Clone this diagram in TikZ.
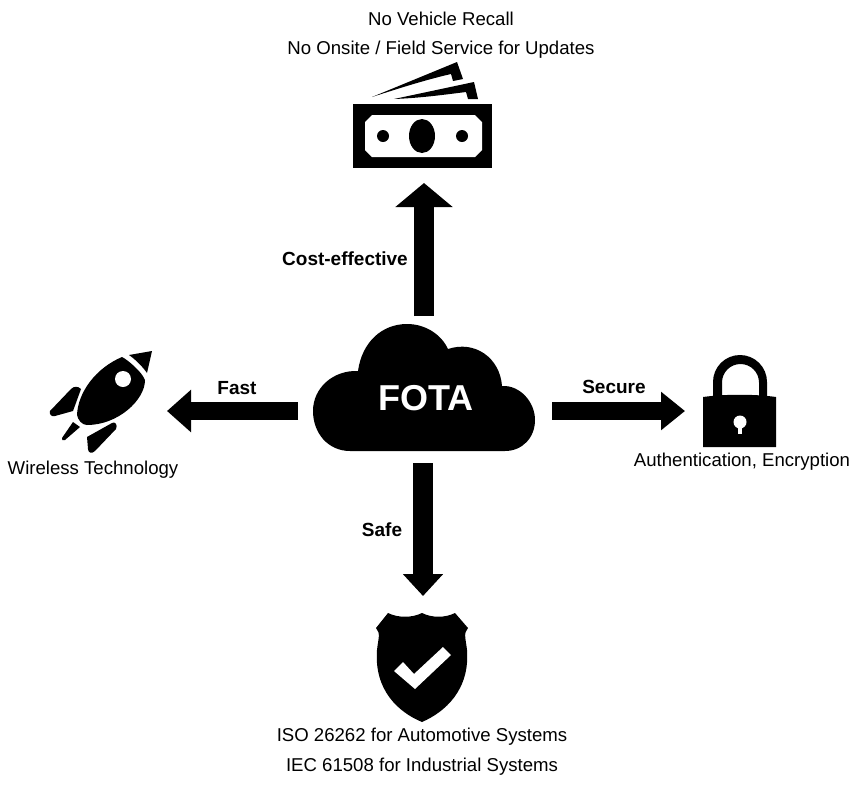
\documentclass[tikz,border=0pt]{standalone}
\usepackage{fontspec}
\setmainfont{Liberation Sans}
\usetikzlibrary{arrows.meta}
\tikzset{
  lbl/.style={font=\fontsize{18.6}{22}\selectfont,inner sep=0pt,text=black},
  blbl/.style={font=\fontsize{19}{22}\selectfont\bfseries,inner sep=0pt},
  icon/.style={fill=black,draw=none},
  hole/.style={fill=white,draw=none},
  blockv/.style={line width=20pt,draw=black,-{Triangle[length=24pt,width=56pt]}},
  blockh/.style={line width=18pt,draw=black,-{Triangle[length=24pt,width=41pt]}},
}
\begin{document}
\begin{tikzpicture}[x=1pt,y=-1pt]
\useasboundingbox (0,0) rectangle (865,788);
% cloud
\path[icon] (350,451) .. controls (328,451) and (313,433) .. (313,411)
  .. controls (313,388) and (333,370) .. (358,371)
  .. controls (362,342) and (382,324) .. (407,324)
  .. controls (425,324) and (441,334) .. (448,349)
  .. controls (475,340) and (500,358) .. (502,386)
  .. controls (520,385) and (535,402) .. (535,420)
  .. controls (535,438) and (522,451) .. (505,451) -- cycle;
\node[inner sep=0pt,text=white,font=\fontsize{36}{40}\selectfont\bfseries] (fota) at (426,398) {FOTA};
% arrow anchors
\coordinate (upA) at (424,316); \coordinate (upB) at (424,183);
\coordinate (lfA) at (298,411); \coordinate (lfB) at (167,411);
\coordinate (rtA) at (552,411); \coordinate (rtB) at (685,411);
\coordinate (dnA) at (423,463); \coordinate (dnB) at (423,596);
\draw[blockv] (upA) -- (upB);
\draw[blockh,-{Triangle[length=24pt,width=41pt]}] (lfA) -- (lfB);
\draw[blockh,-{Triangle[length=24pt,width=37pt]}] (rtA) -- (rtB);
\draw[line width=20pt,-{Triangle[length=22pt,width=39pt]}] (dnA) -- (dnB);
% money
\path[icon] (353,104) rectangle (492,168);
\path[hole] (372,115) -- (475,115) -- (482,122) -- (482,150) -- (475,157) -- (372,157) -- (365,150) -- (365,122) -- cycle;
\path[icon] (422,136) ellipse [x radius=13,y radius=17];
\path[icon] (383,136) circle [radius=6];
\path[icon] (462,136) circle [radius=6];
\path[icon] (372,97) -- (457,62) -- (463,79) -- (453,81) -- (451,74) .. controls (425,80) and (400,88) .. (372,97) -- cycle;
\path[icon] (394,99) -- (474,82) -- (478,99) -- (468,99) -- (466,92) .. controls (442,95) and (420,98) .. (394,99) -- cycle;
% rocket
\path[icon] (77,415) .. controls (78,392) and (96,368) .. (122,357) .. controls (128,360) and (142,372) .. (145,380)
  .. controls (145,400) and (118,425) .. (87,425) .. controls (82,425) and (78,420) .. (77,415) -- cycle;
\path[hole] (123,379) circle [radius=8];
\path[icon] (129,355) -- (152,351) -- (147,373) .. controls (142,366) and (136,360) .. (129,355) -- cycle;
\path[icon] (50,411) -- (71,389) .. controls (74,386) and (78,386) .. (81,389) -- (73,411) -- (55,416) .. controls (51,417) and (49,414) .. (50,411) -- cycle;
\path[icon] (62,438) -- (73,422) -- (80,427) -- (65,440) .. controls (63,441) and (61,440) .. (62,438) -- cycle;
\path[icon] (87,437) -- (112,423) .. controls (115,421) and (118,425) .. (116,429) -- (95,451) .. controls (92,454) and (88,453) .. (88,449) -- cycle;
% lock
\path[icon] (713,397) -- (713,382) arc [start angle=180,end angle=360,radius=27] -- (767,397) -- (759,397) -- (759,382.5) arc [start angle=360,end angle=180,radius=18.5] -- (722,397) -- cycle;
\path[icon] (703,397) .. controls (725,394) and (755,394) .. (776,397) -- (776,447) -- (703,447) -- cycle;
\path[hole] (740,422) circle [radius=6.5];
\path[hole] (738,422) rectangle (742,434);
% shield
\path[icon] (388,613) .. controls (398,618) and (412,618) .. (422,613) .. controls (432,618) and (445,618) .. (455,613)
  -- (468,628) .. controls (463,633) and (466,640) .. (467,650)
  .. controls (470,690) and (445,712) .. (422,722)
  .. controls (398,712) and (374,690) .. (377,650)
  .. controls (378,640) and (381,633) .. (376,628) -- cycle;
\path[hole] (394,671) -- (403,662) -- (414,674) -- (443,647) -- (451,655) -- (415,689) -- cycle;
% labels
\node[lbl] (t1) at (441,19) {No Vehicle Recall};
\node[lbl] (t2) at (441,50) {No Onsite / Field Service for Updates};
\node[blbl] (l1) at (345,259) {Cost-effective};
\node[blbl] (l2) at (237,388) {Fast};
\node[blbl] (l3) at (614,387) {Secure};
\node[blbl] (l4) at (382,530) {Safe};
\node[lbl] (t3) at (93,470) {Wireless Technology};
\node[lbl] (t4) at (742,462) {Authentication, Encryption};
\node[lbl] (t5) at (422,737) {ISO 26262 for Automotive Systems};
\node[lbl] (t6) at (422,767) {IEC 61508 for Industrial Systems};
\end{tikzpicture}
\end{document}
